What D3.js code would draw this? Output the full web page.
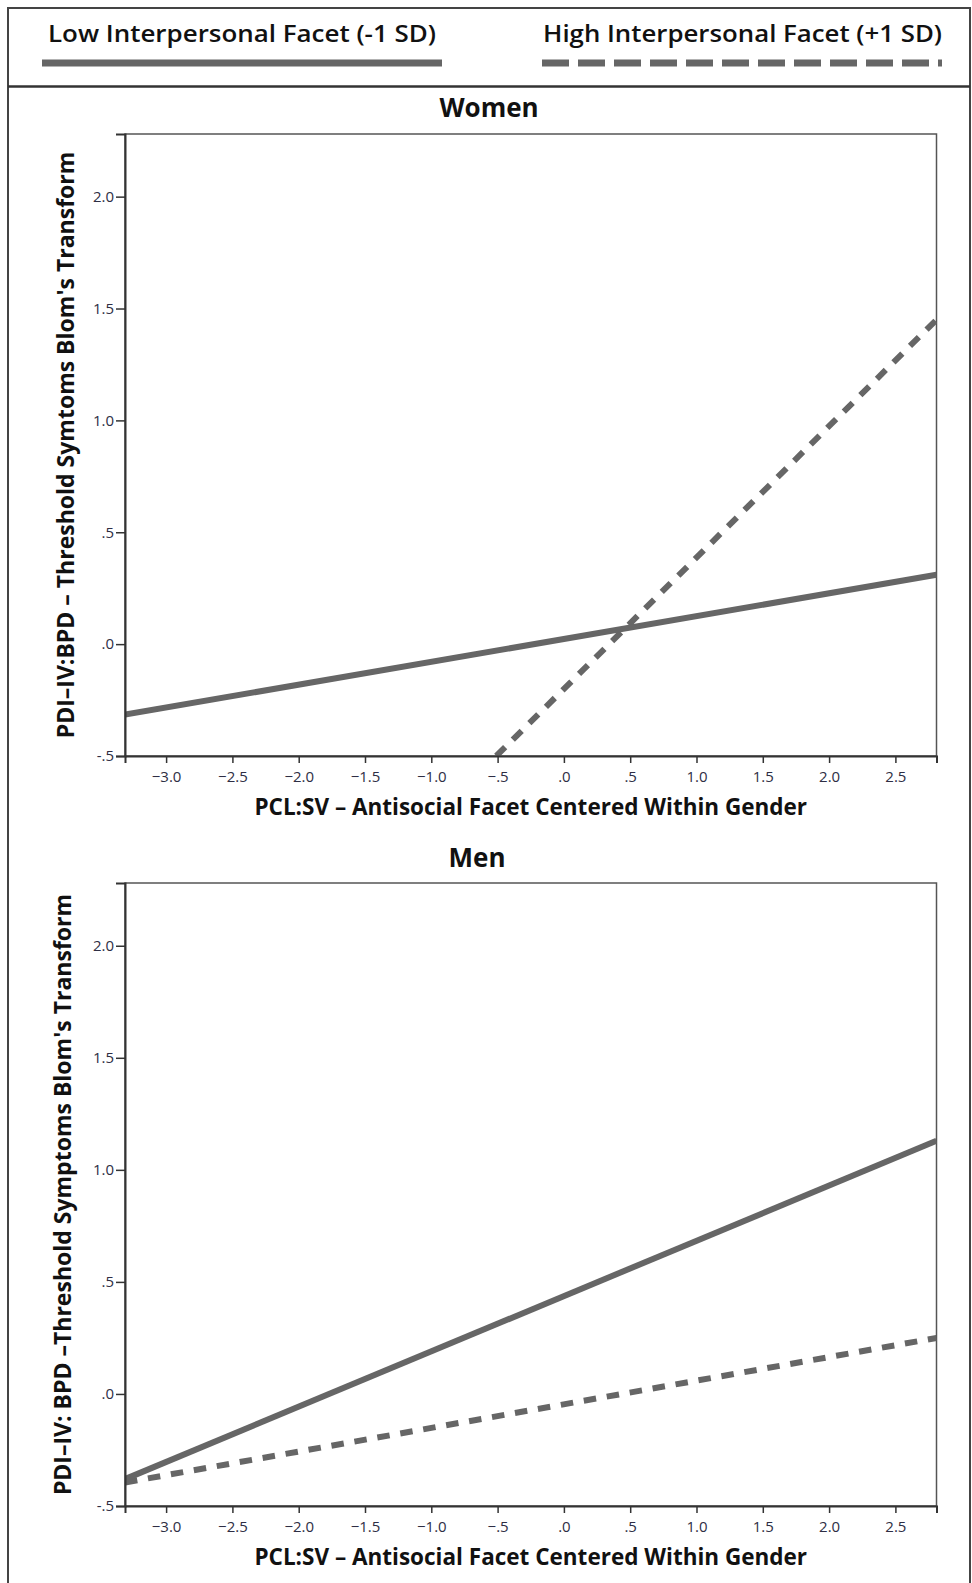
<!DOCTYPE html>
<html lang="en">
<head>
<meta charset="UTF-8">
<script src="https://d3js.org/d3.v7.min.js"></script>
<style>
  html, body { margin: 0; padding: 0; background: #fff; }
  svg { display: block; }
  .legend text { font-family: 'Open Sans', sans-serif; font-weight: 600; font-size: 23.5px; fill: #111; }
  .panel-title { font-family: 'Open Sans', sans-serif; font-weight: 700; font-size: 26px; fill: #111; text-anchor: middle; }
  .axis-title { font-family: 'Open Sans', sans-serif; font-weight: 700; font-size: 22.5px; fill: #111; text-anchor: middle; }
  .y-title { font-size: 23px; }
  .tick text { font-family: 'Open Sans', sans-serif; font-size: 15px; fill: #2e2e44; }
</style>
</head>
<body>
<div id="chart"></div>
<script>
// ---- data ----
var seriesNames = ["Low Interpersonal Facet (-1 SD)", "High Interpersonal Facet (+1 SD)"];
var panelNames = ["Women", "Men"];

var xTicks = [-3.0, -2.5, -2.0, -1.5, -1.0, -0.5, 0, 0.5, 1.0, 1.5, 2.0, 2.5];
var xTickLabels = ["\u22123.0", "\u22122.5", "\u22122.0", "\u22121.5", "\u22121.0", "\u2212.5", ".0", ".5", "1.0", "1.5", "2.0", "2.5"];
var yTicks = [-0.5, 0, 0.5, 1.0, 1.5, 2.0];
var yTickLabels = ["-.5", ".0", ".5", "1.0", "1.5", "2.0"];
var xDomain = [-3.31, 2.81];
var yDomain = [-0.5, 2.28];

// [x, y] end points of each fitted line
var womenLow = [[-3.31, -0.315], [2.81, 0.31]];
var womenHigh = [[-0.51, -0.5], [2.81, 1.45]];
var menLow = [[-3.31, -0.38], [2.81, 1.13]];
var menHigh = [[-3.31, -0.395], [2.81, 0.25]];

var xTitles = ["PCL:SV \u2013 Antisocial Facet Centered Within Gender", "PCL:SV \u2013 Antisocial Facet Centered Within Gender"];
var yTitles = ["PDI\u2013IV:BPD \u2013 Threshold Symtoms Blom's Transform", "PDI\u2013IV: BPD \u2013Threshold Symptoms Blom's Transform"];

// ---- layout ----
var W = 972, H = 1583;
var lineColor = "#666";

var panels = [
  { name: panelNames[0], low: womenLow, high: womenHigh, top: 134, bottom: 756, titleX: 489, titleY: 117, yTitleX: 66, xTitle: xTitles[0], yTitle: yTitles[0] },
  { name: panelNames[1], low: menLow, high: menHigh, top: 883, bottom: 1506, titleX: 477, titleY: 867, yTitleX: 63, xTitle: xTitles[1], yTitle: yTitles[1] }
];
var plotLeft = 125, plotRight = 936.5;

var svg = d3.select("#chart").append("svg")
  .attr("width", W)
  .attr("height", H);

// outer box + legend separator
svg.append("rect")
  .attr("x", 8).attr("y", 8)
  .attr("width", 962).attr("height", H + 20)
  .attr("fill", "none")
  .attr("stroke", "#444")
  .attr("stroke-width", 2);

svg.append("line")
  .attr("x1", 8).attr("x2", 970)
  .attr("y1", 86.5).attr("y2", 86.5)
  .attr("stroke", "#333")
  .attr("stroke-width", 2.5);

// legend
var legend = svg.append("g").attr("class", "legend");
var legendItems = [
  { x: 48, len: 388, x1: 42, x2: 442, dash: null },
  { x: 543, len: 399, x1: 542, x2: 942, dash: "27,9" }
];
legend.selectAll("text")
  .data(seriesNames)
  .enter().append("text")
  .attr("x", function(d, i) { return legendItems[i].x; })
  .attr("y", 42)
  .attr("textLength", function(d, i) { return legendItems[i].len; })
  .attr("lengthAdjust", "spacingAndGlyphs")
  .text(function(d) { return d; });

legend.selectAll("line")
  .data(seriesNames)
  .enter().append("line")
  .attr("x1", function(d, i) { return legendItems[i].x1; })
  .attr("x2", function(d, i) { return legendItems[i].x2; })
  .attr("y1", 63).attr("y2", 63)
  .attr("stroke", lineColor)
  .attr("stroke-width", 7)
  .attr("stroke-dasharray", function(d, i) { return legendItems[i].dash; });

// panels
panels.forEach(function(p, pi) {
  var x = d3.scaleLinear().domain(xDomain).range([plotLeft, plotRight]);
  var y = d3.scaleLinear().domain(yDomain).range([p.bottom, p.top]);

  var g = svg.append("g");

  g.append("text")
    .attr("class", "panel-title")
    .attr("x", p.titleX)
    .attr("y", p.titleY)
    .text(p.name);

  var clipId = "clip" + pi;
  g.append("clipPath").attr("id", clipId)
    .append("rect")
    .attr("x", plotLeft).attr("y", p.top)
    .attr("width", plotRight - plotLeft).attr("height", p.bottom - p.top);

  // frame
  g.append("rect")
    .attr("x", plotLeft).attr("y", p.top)
    .attr("width", plotRight - plotLeft).attr("height", p.bottom - p.top)
    .attr("fill", "none")
    .attr("stroke", "#555")
    .attr("stroke-width", 1.5);

  var line = d3.line()
    .x(function(d) { return x(d[0]); })
    .y(function(d) { return y(d[1]); });

  var lines = g.append("g").attr("clip-path", "url(#" + clipId + ")");
  lines.append("path")
    .datum(p.high)
    .attr("d", line)
    .attr("fill", "none")
    .attr("stroke", lineColor)
    .attr("stroke-width", 6)
    .attr("stroke-dasharray", "12.5,10.8");
  lines.append("path")
    .datum(p.low)
    .attr("d", line)
    .attr("fill", "none")
    .attr("stroke", lineColor)
    .attr("stroke-width", 6);

  var xAxis = d3.axisBottom(x)
    .tickValues(xTicks)
    .tickFormat(function(d, i) { return xTickLabels[i]; })
    .tickSize(7)
    .tickPadding(8);
  var gx = g.append("g")
    .attr("transform", "translate(0," + p.bottom + ")")
    .call(xAxis);

  var yAxis = d3.axisLeft(y)
    .tickValues(yTicks)
    .tickFormat(function(d, i) { return yTickLabels[i]; })
    .tickSize(9)
    .tickPadding(2);
  var gy = g.append("g")
    .attr("transform", "translate(" + plotLeft + ",0)")
    .call(yAxis);

  [gx, gy].forEach(function(a) {
    a.select(".domain").attr("stroke", "#333").attr("stroke-width", 2);
    a.selectAll(".tick line").attr("stroke", "#333").attr("stroke-width", 1.5);
  });

  g.append("text")
    .attr("class", "axis-title")
    .attr("x", (plotLeft + plotRight) / 2)
    .attr("y", p.bottom + 59)
    .text(p.xTitle);

  g.append("text")
    .attr("class", "axis-title y-title")
    .attr("transform", "translate(" + p.yTitleX + "," + ((p.top + p.bottom) / 2) + ") rotate(-90)")
    .attr("dy", "0.35em")
    .text(p.yTitle);
});
</script>
</body>
</html>
